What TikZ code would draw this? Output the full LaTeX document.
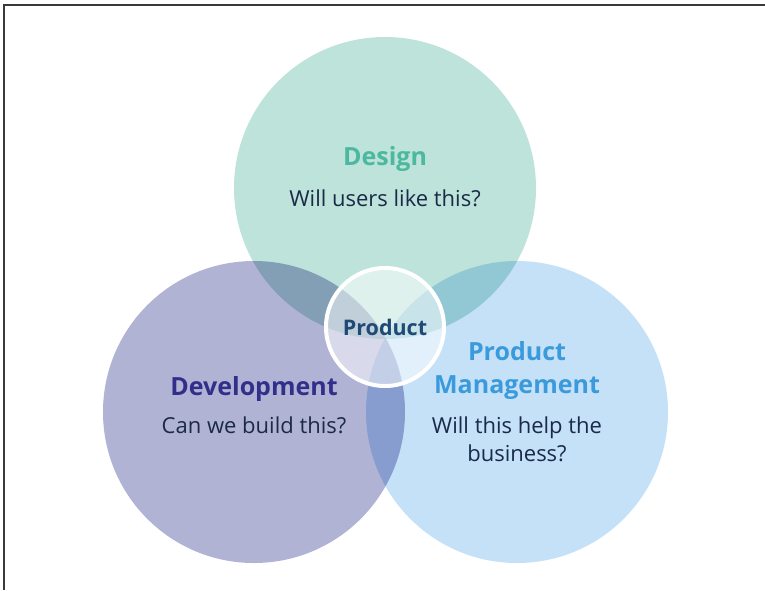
\documentclass[tikz,border=0pt]{standalone}
\usepackage{fontspec}
\setmainfont{Open Sans}
\definecolor{designfill}{HTML}{BDE3DA}
\definecolor{devfill}{HTML}{B1B3D5}
\definecolor{pmfill}{HTML}{C5E1F8}
\definecolor{designtext}{HTML}{4DB8A0}
\definecolor{devtext}{HTML}{312F8A}
\definecolor{pmtext}{HTML}{3A9ADB}
\definecolor{qtext}{HTML}{1A2A48}
\definecolor{prodtext}{HTML}{1F4A75}
\definecolor{framegray}{HTML}{3A3A3A}
\begin{document}
\begin{tikzpicture}[x=1pt, y=-1pt,
    venn/.style={circle, minimum size=302pt, inner sep=0pt},
    heading/.style={font=\fontsize{25}{33}\selectfont\bfseries, align=center},
    question/.style={font=\fontsize{22}{28}\selectfont, text=qtext, align=center}]
    \useasboundingbox (0,0) rectangle (765,590);

    % 枠
    \coordinate (frameright) at (765,5);
    \coordinate (framecorner) at (4,5);
    \coordinate (framebottom) at (4,590);
    \draw[framegray, line width=1.5pt] (frameright) -- (framecorner) -- (framebottom);

    % 三つの円
    \begin{scope}[blend mode=multiply]
    \node[venn, fill=designfill] (design) at (385,188) {};
    \node[venn, fill=devfill] (dev) at (254,412) {};
    \node[venn, fill=pmfill] (pm) at (517,412) {};
    \end{scope}

    % 中央の円
    \node[circle, minimum size=118pt, inner sep=0pt, draw=white, line width=4pt,
          fill=white, fill opacity=0.5, text opacity=1, text=prodtext,
          font=\fontsize{21.5}{24}\selectfont\bfseries] (product) at (385,327) {Product};

    % Design
    \node[heading, text=designtext] (designtitle) at (385,159) {Design};
    \node[question] (designq) at (385,198) {Will users like this?};

    % Development
    \node[heading, text=devtext] (devtitle) at (254,389) {Development};
    \node[question] (devq) at (254,425) {Can we build this?};

    % Product Management
    \node[heading, text=pmtext] (pmtitle) at (517,370) {Product\\Management};
    \node[question] (pmq) at (517,439) {Will this help the\\business?};
  \end{tikzpicture}
\end{document}
